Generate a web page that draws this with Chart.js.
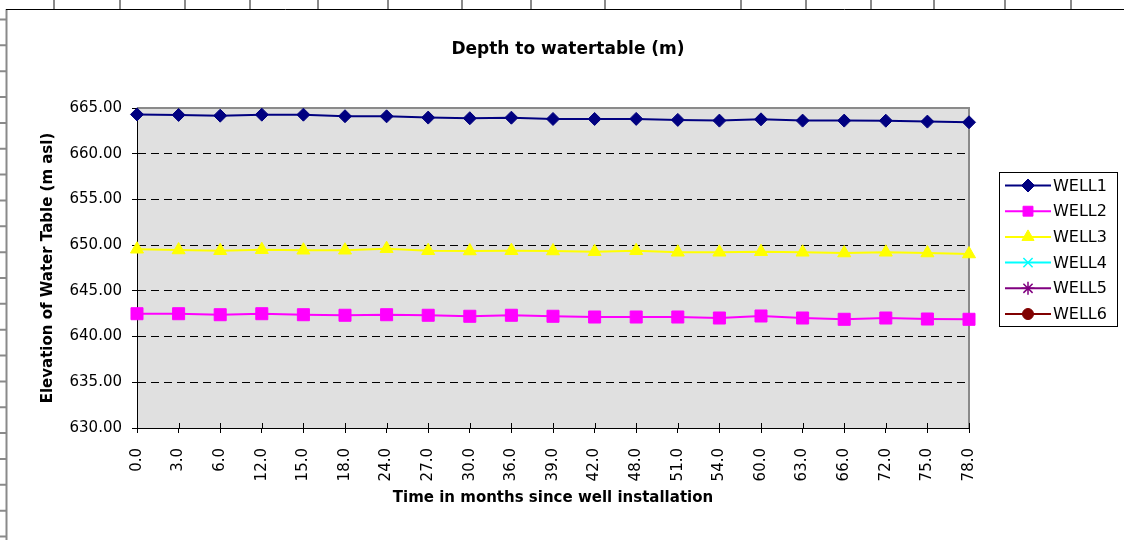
<!DOCTYPE html>
<html>
<head>
<meta charset="utf-8">
<title>Depth to watertable (m)</title>
<script src="https://cdn.jsdelivr.net/npm/chart.js@4/dist/chart.umd.min.js"></script>
<style>
  html, body { margin: 0; padding: 0; background: #fff; }
  #wrap { width: 1124px; height: 540px; }
  canvas { display: block; }
</style>
</head>
<body>
<div id="wrap"><canvas id="chart" width="1124" height="540"></canvas></div>
<script>
// Months since well installation (survey dates)
const months = ['0.0', '3.0', '6.0', '12.0', '15.0', '18.0', '24.0', '27.0', '30.0', '36.0', '39.0',
                '42.0', '48.0', '51.0', '54.0', '60.0', '63.0', '66.0', '72.0', '75.0', '78.0'];

// Water table elevation per well (m asl)
const well1 = [664.30, 664.24, 664.16, 664.27, 664.27, 664.10, 664.09, 663.95, 663.88, 663.94, 663.80,
               663.80, 663.81, 663.70, 663.62, 663.76, 663.62, 663.62, 663.61, 663.51, 663.44];
const well2 = [642.50, 642.50, 642.39, 642.50, 642.39, 642.33, 642.39, 642.33, 642.22, 642.33, 642.22,
               642.14, 642.14, 642.14, 642.03, 642.25, 642.03, 641.89, 642.03, 641.92, 641.89];
const well3 = [649.55, 649.47, 649.39, 649.50, 649.44, 649.44, 649.61, 649.39, 649.36, 649.39, 649.36,
               649.28, 649.39, 649.22, 649.22, 649.28, 649.22, 649.14, 649.22, 649.14, 649.03];
const well4 = [];
const well5 = [];
const well6 = [];

const wellNames = ['WELL1', 'WELL2', 'WELL3', 'WELL4', 'WELL5', 'WELL6'];

// Elevation axis tick values
const elevationTicks = [630, 635, 640, 645, 650, 655, 660, 665];

const FONT = "'DejaVu Sans', 'Liberation Sans', Arial, sans-serif";

function series(i, data, color, style, radius, legendRadius) {
  return {
    label: wellNames[i],
    data: data,
    borderColor: color,
    backgroundColor: color,
    borderWidth: 2,
    tension: 0,
    pointStyle: style,
    pointRadius: radius,
    pointHoverRadius: radius,
    pointBackgroundColor: color,
    pointBorderColor: color,
    pointBorderWidth: 1,
    legendRadius: legendRadius,
    clip: false
  };
}

function markerAt(ctx, ds, x, y) {
  ctx.save();
  ctx.fillStyle = ds.pointBackgroundColor;
  ctx.strokeStyle = ds.pointBorderColor;
  ctx.lineWidth = (ds.pointStyle === 'crossRot' || ds.pointStyle === 'star') ? 1.5 : 1;
  Chart.helpers.drawPoint(ctx, {
    pointStyle: ds.pointStyle,
    radius: ds.legendRadius,
    rotation: 0,
    borderWidth: ctx.lineWidth
  }, x, y);
  ctx.restore();
}

const framePlugin = {
  id: 'frame',
  beforeDraw(chart) {
    const { ctx, chartArea: a, width, height } = chart;
    ctx.save();
    ctx.fillStyle = '#fff';
    ctx.fillRect(0, 0, width, height);

    // worksheet cell edges around the embedded chart
    ctx.strokeStyle = '#8a8a8a';
    ctx.lineWidth = 2;
    const colEdges = [54, 120, 185, 250, 318, 388, 462, 531, 605, 741, 806, 871, 934, 1005, 1071];
    ctx.beginPath();
    colEdges.forEach(x => { ctx.moveTo(x, 0); ctx.lineTo(x, 9); });
    ctx.moveTo(6.5, 9); ctx.lineTo(6.5, height);
    for (let y = 19.5; y < height; y += 25.85) { ctx.moveTo(0, y); ctx.lineTo(6, y); }
    ctx.stroke();

    // chart object edge
    ctx.strokeStyle = '#000';
    ctx.lineWidth = 1;
    ctx.beginPath();
    ctx.moveTo(6, 9.5); ctx.lineTo(width, 9.5);
    ctx.stroke();

    // plot area fill
    ctx.fillStyle = '#e0e0e0';
    ctx.fillRect(a.left, a.top, a.right - a.left, a.bottom - a.top);
    ctx.restore();
  },
  beforeDatasetsDraw(chart) {
    const { ctx, chartArea: a, scales } = chart;
    ctx.save();
    // plot area border on the top and right
    ctx.strokeStyle = '#8a8a8a';
    ctx.lineWidth = 2;
    ctx.beginPath();
    ctx.moveTo(a.left, a.top);
    ctx.lineTo(a.right, a.top);
    ctx.lineTo(a.right, a.bottom);
    ctx.stroke();
    // category tick marks crossing into the plot
    ctx.strokeStyle = '#000';
    ctx.lineWidth = 1;
    ctx.beginPath();
    scales.x.ticks.forEach((t, i) => {
      const px = Math.round(scales.x.getPixelForTick(i)) + 0.5;
      ctx.moveTo(px, a.bottom - 5);
      ctx.lineTo(px, a.bottom);
    });
    ctx.stroke();
    ctx.restore();
  },
  afterDraw(chart) {
    const { ctx } = chart;
    ctx.save();
    // chart title
    ctx.fillStyle = '#000';
    ctx.font = 'bold 17px ' + FONT;
    ctx.textAlign = 'center';
    ctx.textBaseline = 'middle';
    ctx.fillText('Depth to watertable (m)', 568, 50);

    // legend
    const bx = 999.5, by = 172.5, bw = 118, bh = 154;
    ctx.fillStyle = '#fff';
    ctx.fillRect(bx, by, bw, bh);
    ctx.strokeStyle = '#000';
    ctx.lineWidth = 1;
    ctx.strokeRect(bx, by, bw, bh);
    ctx.font = '16px ' + FONT;
    ctx.textAlign = 'left';
    ctx.textBaseline = 'middle';
    chart.data.datasets.forEach((ds, i) => {
      const y = 185.5 + i * 25.7;
      ctx.strokeStyle = ds.borderColor;
      ctx.lineWidth = ds.borderWidth;
      ctx.beginPath();
      ctx.moveTo(1005, y);
      ctx.lineTo(1051, y);
      ctx.stroke();
      markerAt(ctx, ds, 1028, y);
      ctx.fillStyle = '#000';
      ctx.fillText(ds.label, 1053, y + 1);
    });
    ctx.restore();
  }
};

new Chart(document.getElementById('chart'), {
  type: 'line',
  data: {
    labels: months,
    datasets: [
      series(0, well1, '#000080', 'rectRot', 6.5, 6.5),
      series(1, well2, '#ff00ff', 'rect', 8.5, 7),
      series(2, well3, '#ffff00', 'triangle', 7.5, 7),
      series(3, well4, '#00ffff', 'crossRot', 6.5, 6.5),
      series(4, well5, '#800080', 'star', 6.5, 6.5),
      series(5, well6, '#800000', 'circle', 5.5, 5.5)
    ]
  },
  options: {
    responsive: false,
    animation: false,
    devicePixelRatio: 1,
    events: [],
    layout: { padding: { top: 108, right: 155, bottom: 0, left: 0 } },
    plugins: {
      legend: { display: false },
      title: { display: false },
      tooltip: { enabled: false }
    },
    scales: {
      x: {
        type: 'category',
        offset: false,
        afterFit(s) { s.height = 112; },
        grid: {
          display: true,
          drawOnChartArea: false,
          drawTicks: true,
          tickLength: 5,
          color: '#000',
          tickColor: '#000'
        },
        border: { display: true, color: '#000', width: 1 },
        ticks: {
          autoSkip: false,
          minRotation: 90,
          maxRotation: 90,
          padding: 15,
          color: '#000',
          font: { family: FONT, size: 15 }
        },
        title: {
          display: true,
          text: 'Time in months since well installation',
          color: '#000',
          font: { family: FONT, size: 15, weight: 'bold' },
          padding: { top: 0, bottom: 33 }
        }
      },
      y: {
        min: elevationTicks[0],
        max: elevationTicks[elevationTicks.length - 1],
        afterFit(s) { s.width = 137; },
        afterBuildTicks(s) { s.ticks = elevationTicks.map(v => ({ value: v })); },
        grid: {
          drawTicks: true,
          tickLength: 5,
          lineWidth: 1,
          color: c => (c.tick && (c.tick.value === elevationTicks[0] ||
                       c.tick.value === elevationTicks[elevationTicks.length - 1])) ? 'rgba(0,0,0,0)' : '#000',
          tickColor: '#000'
        },
        border: { display: true, color: '#000', width: 1, dash: [8, 5] },
        ticks: {
          padding: 10,
          color: '#000',
          font: { family: FONT, size: 15 },
          callback: v => Number(v).toFixed(2)
        },
        title: {
          display: true,
          text: 'Elevation of Water Table (m asl)',
          color: '#000',
          font: { family: FONT, size: 15, weight: 'bold' },
          padding: { top: 39, bottom: 0 }
        }
      }
    }
  },
  plugins: [framePlugin]
});
</script>
</body>
</html>
